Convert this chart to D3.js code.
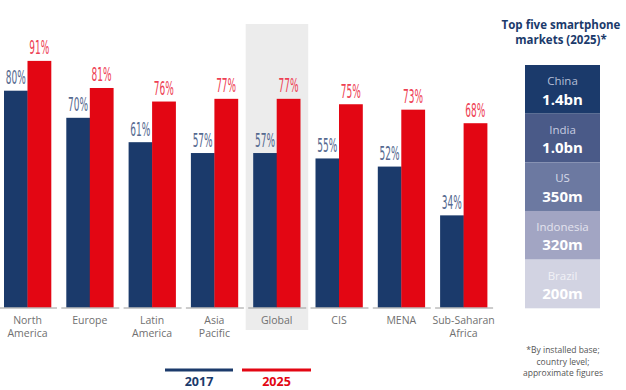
<!DOCTYPE html>
<html><head><meta charset="utf-8">
<script src="https://cdn.jsdelivr.net/npm/d3@7"></script>
<style>body{margin:0;background:#fff}svg{display:block}</style>
</head><body>
<svg id="chart" width="626" height="390"></svg>
<script>
const categories = ["North America","Europe","Latin America","Asia Pacific","Global","CIS","MENA","Sub-Saharan Africa"];
const categoryLines = [["North","America"],["Europe"],["Latin","America"],["Asia","Pacific"],["Global"],["CIS"],["MENA"],["Sub-Saharan","Africa"]];
const series = ["2017","2025"];
const values2017 = [80,70,61,57,57,55,52,34];
const values2025 = [91,81,76,77,77,75,73,68];
const highlight = "Global";
const markets = ["China","India","US","Indonesia","Brazil"];
const marketValues = ["1.4bn","1.0bn","350m","320m","200m"];
const panelTitle = ["Top five smartphone","markets (2025)*"];
const footnote = ["*By installed base;","country level;","approximate figures"];

const colors = {"2017":"#1b3a6b","2025":"#e30613"};
const labelColors = {"2017":"#55698f","2025":"#ee4053"};
const marketFill = ["#1b3a6b","#4a5a88","#6c79a1","#a2a5c3","#d2d3e2"];
const marketNameColor = ["#b4bfd6","#c6cce0","#d6dbe9","#e2e3ee","#f1f1f6"];

const svg = d3.select("#chart");
const baseY = 307.5;
const x = d3.scaleBand().domain(categories).range([4, 487.1]).paddingInner(0.2456).paddingOuter(0);
const xs = d3.scaleBand().domain(series).range([0, x.bandwidth()]);
const y = d3.scaleLinear().domain([0,100]).range([baseY, 36.5]);

// highlight background
svg.append("rect").attr("x", x(highlight)-7.5).attr("y", 24)
  .attr("width", x.bandwidth()+15.5).attr("height", 306).attr("fill","#ececec");

const data = categories.map((c,i)=>({c, v:{"2017":values2017[i],"2025":values2025[i]}, lines:categoryLines[i]}));

const g = svg.selectAll("g.grp").data(data).join("g").attr("class","grp")
  .attr("transform", d=>`translate(${x(d.c)},0)`);

g.selectAll("rect.bar").data(d=>series.map(s=>({s, v:d.v[s]}))).join("rect").attr("class","bar")
  .attr("x", d=>xs(d.s)).attr("width", xs.bandwidth()+0.3)
  .attr("y", d=>y(d.v)).attr("height", d=>baseY-y(d.v)).attr("fill", d=>colors[d.s]);

g.selectAll("text.val").data(d=>series.map(s=>({s, v:d.v[s]}))).join("text").attr("class","val")
  .attr("x", d=>xs(d.s)+xs.bandwidth()/2).attr("y", d=>y(d.v)-6.5)
  .attr("text-anchor","middle").attr("font-family","'Liberation Sans Narrow','DejaVu Sans Condensed',sans-serif")
  .attr("font-size",20).attr("fill", d=>labelColors[d.s])
  .attr("textLength", 20).attr("lengthAdjust","spacingAndGlyphs")
  .text(d=>d.v+"%");

// axis segments
g.append("line").attr("x1",-5).attr("x2",x.bandwidth()+6).attr("y1",baseY+0.5).attr("y2",baseY+0.5)
  .attr("stroke","#9a9a9a").attr("stroke-width",1);

// category labels
g.each(function(d){
  const t = d3.select(this).append("text").attr("text-anchor","middle")
    .attr("font-family","'Open Sans',sans-serif").attr("font-size",10.5).attr("fill","#707070");
  d.lines.forEach((l,k)=>t.append("tspan").attr("x", x.bandwidth()/2).attr("y", 323.5+k*13.5).text(l));
});

// legend
const legX = {"2017":[165,233],"2025":[242,311]};
series.forEach(s=>{
  const [a,b] = legX[s];
  svg.append("line").attr("x1",a).attr("x2",b).attr("y1",370).attr("y2",370)
    .attr("stroke",colors[s]).attr("stroke-width",3);
  svg.append("text").attr("x",(a+b)/2).attr("y",386).attr("text-anchor","middle")
    .attr("font-family","'Open Sans',sans-serif").attr("font-weight",700).attr("font-size",12.5)
    .attr("fill", s==="2017"?"#1b3a6b":"#e30613").text(s);
});

// right panel
const pt = svg.append("text").attr("text-anchor","middle").attr("font-family","'Open Sans',sans-serif")
  .attr("font-weight",700).attr("font-size",11.5).attr("fill","#1b3a6b");
panelTitle.forEach((l,k)=>pt.append("tspan").attr("x",561).attr("y",29+k*15).text(l));

const my = d3.scaleBand().domain(markets).range([65, 308.3]);
const mg = svg.selectAll("g.mk").data(markets).join("g").attr("class","mk")
  .attr("transform", d=>`translate(525,${my(d)})`);
mg.append("rect").attr("width",75).attr("height",my.bandwidth()).attr("fill",(d,i)=>marketFill[i]);
mg.append("text").attr("x",37.5).attr("y",20).attr("text-anchor","middle")
  .attr("font-family","'Open Sans',sans-serif").attr("font-size",11.5).attr("fill",(d,i)=>marketNameColor[i]).text(d=>d);
mg.append("text").attr("x",37.5).attr("y",39.5).attr("text-anchor","middle")
  .attr("font-family","'Open Sans',sans-serif").attr("font-weight",700).attr("font-size",15).attr("fill","#ffffff")
  .text((d,i)=>marketValues[i]);

const fn = svg.append("text").attr("text-anchor","middle").attr("font-family","'Open Sans',sans-serif")
  .attr("font-size",8.5).attr("fill","#555");
footnote.forEach((l,k)=>fn.append("tspan").attr("x",563).attr("y",353+k*11.5).text(l));
</script>
</body></html>
